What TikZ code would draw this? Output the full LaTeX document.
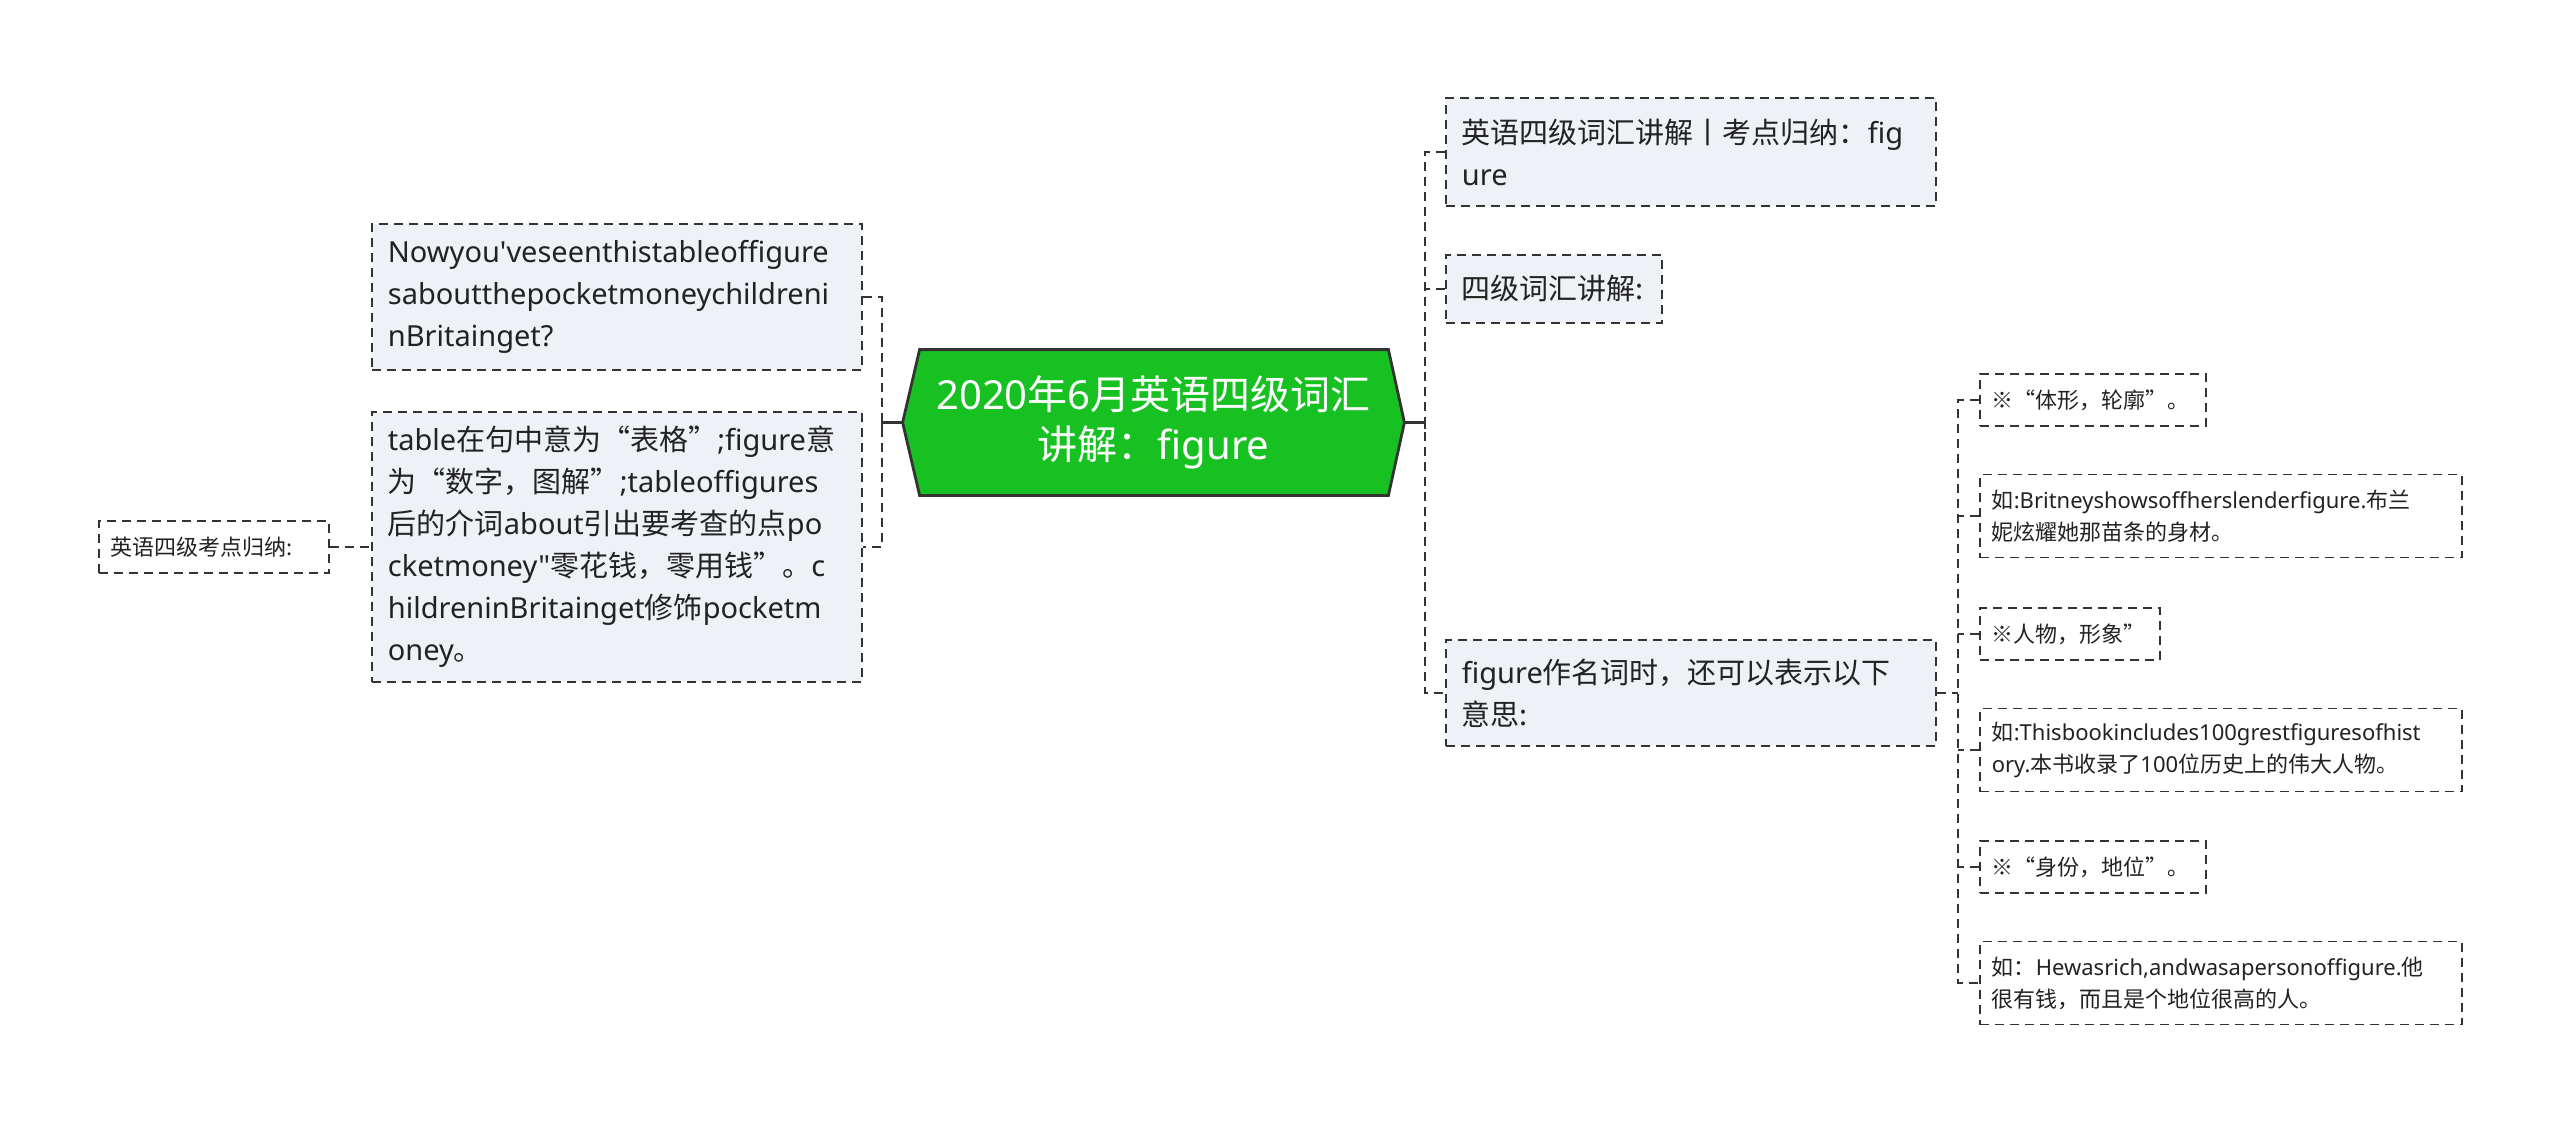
\documentclass[tikz,border=0pt]{standalone}
\usepackage{fontspec}
\setmainfont{Noto Sans CJK SC}
\newfontfamily\latfont{Noto Sans}
\usetikzlibrary{backgrounds}
\definecolor{linec}{HTML}{333333}
\definecolor{boxfill}{HTML}{EEF1F5}
\definecolor{rootfill}{HTML}{17C121}
\definecolor{txt}{HTML}{222222}
\newcommand{\lat}[1]{{\latfont #1}}
\tikzset{
  dsh/.style={dash pattern=on 4.5pt off 3pt},
  mainbox/.style={draw=linec, dsh, line width=0.9pt, fill=boxfill, align=left, anchor=west,
    inner xsep=8pt, inner ysep=5pt, text=txt, font=\fontsize{14.5pt}{21pt}\selectfont},
  leafbox/.style={draw=linec, dsh, line width=0.8pt, fill=white, align=left, anchor=west,
    inner xsep=6pt, inner ysep=4pt, text=txt, font=\fontsize{11pt}{16pt}\selectfont},
  conn/.style={draw=linec, dsh, line width=0.9pt},
  rootconn/.style={draw=linec, line width=1.3pt},
}
\begin{document}
\begin{tikzpicture}[x=0.5pt, y=-0.5pt]
\useasboundingbox (0,0) rectangle (2560,1124);

% root
\node[minimum width=250.5pt, minimum height=72.5pt, inner sep=0pt, align=center, text=white,
  font=\fontsize{20pt}{25pt}\selectfont] (root) at (1153.5,422.5)
  {\lat{2020}年\lat{6}月英语四级词汇\\讲解：\lat{figure}};
\begin{scope}[on background layer]
\draw[draw=linec, line width=1.4pt, fill=rootfill, line join=miter]
  (root.west) -- ([xshift=8.5pt]root.north west) -- ([xshift=-8pt]root.north east)
  -- (root.east) -- ([xshift=-8pt]root.south east) -- ([xshift=8.5pt]root.south west) -- cycle;
\end{scope}

% left side
\node[mainbox, text width=229pt, minimum height=73pt] (b1) at (371,297)
  {\lat{Nowyou\char"27 veseenthistableoffigure}\\\lat{saboutthepocketmoneychildreni}\\\lat{nBritainget?}};
\node[mainbox, text width=229pt, minimum height=135pt] (b2) at (371,547)
  {\lat{table}在句中意为“表格”\lat{;figure}意\\为“数字，图解”\lat{;tableoffigures}\\后的介词\lat{about}引出要考查的点\lat{po}\\\lat{cketmoney\char"22}零花钱，零用钱”。\lat{c}\\\lat{hildreninBritainget}修饰\lat{pocketm}\\\lat{oney}。};
\node[leafbox, text width=103pt, minimum height=26pt] (s1) at (98,547) {英语四级考点归纳:};

\coordinate (lbr) at (882,422.5);
\draw[rootconn] (root.west) -- (lbr);
\draw[rootconn] ([yshift=-3pt]lbr) -- ([yshift=3pt]lbr);
\draw[conn] (b1.east) -| (lbr) |- (b2.east);
\draw[conn] (s1.east) -- (b2.west);

% right side
\node[mainbox, text width=229pt, minimum height=54pt] (r1) at (1445,152)
  {英语四级词汇讲解丨考点归纳：\lat{fig}\\\lat{ure}};
\node[mainbox, text width=92pt, minimum height=34pt] (r2) at (1445,289) {四级词汇讲解:};
\node[mainbox, text width=229pt, minimum height=53pt] (r3) at (1445,693)
  {\lat{figure}作名词时，还可以表示以下\\意思:};

\coordinate (rbr) at (1425,422.5);
\draw[rootconn] (root.east) -- (rbr);
\draw[rootconn] ([yshift=-3pt]rbr) -- ([yshift=3pt]rbr);
\draw[conn] (r1.west) -| (rbr) |- (r3.west);
\draw[conn] (r2.west) -- (r2.west -| rbr);

% leaves
\node[leafbox, text width=101pt, minimum height=26pt] (l1) at (1979,400) {※“体形，轮廓”。};
\node[leafbox, text width=229pt, minimum height=41.5pt] (l2) at (1979,516)
  {如\lat{:Britneyshowsoffherslenderfigure.}布兰\\妮炫耀她那苗条的身材。};
\node[leafbox, text width=78pt, minimum height=26pt] (l3) at (1979,634) {※人物，形象”};
\node[leafbox, text width=229pt, minimum height=41.5pt] (l4) at (1979,750)
  {如\lat{:Thisbookincludes100grestfiguresofhist}\\\lat{ory.}本书收录了\lat{100}位历史上的伟大人物。};
\node[leafbox, text width=101pt, minimum height=26pt] (l5) at (1979,867) {※“身份，地位”。};
\node[leafbox, text width=229pt, minimum height=41.5pt] (l6) at (1979,983)
  {如：\lat{Hewasrich,andwasapersonoffigure.}他\\很有钱，而且是个地位很高的人。};

\coordinate (fbr) at (1958,693);
\draw[conn] (r3.east) -- (fbr);
\draw[conn] (l1.west) -| (fbr) |- (l6.west);
\draw[conn] (l2.west) -- (l2.west -| fbr);
\draw[conn] (l3.west) -- (l3.west -| fbr);
\draw[conn] (l4.west) -- (l4.west -| fbr);
\draw[conn] (l5.west) -- (l5.west -| fbr);
\end{tikzpicture}
\end{document}
